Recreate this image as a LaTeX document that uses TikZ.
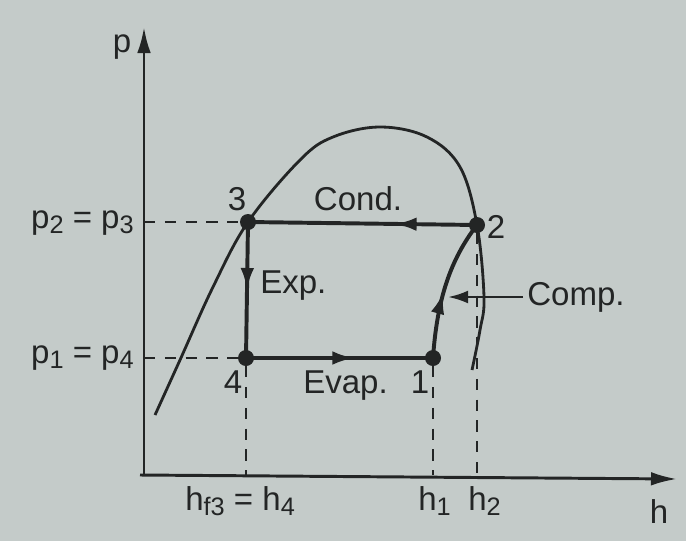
\documentclass[tikz,border=0pt]{standalone}
\usepackage{fontspec}
\setmainfont{Liberation Sans}
\usepackage{xcolor}
\usepackage{tikz}
\usetikzlibrary{arrows.meta, decorations.markings}
\definecolor{clrPaper}{HTML}{C4CBC9}
\definecolor{clrInk}{HTML}{232525}
\newcommand{\lowsub}[1]{\raisebox{-0.32ex}{\fontsize{18}{20}\selectfont #1}}
\tikzset{
  state pt/.style={circle, fill=clrInk, inner sep=0pt, minimum size=4mm},
  lbl/.style={font=\fontsize{23.5}{27}\selectfont, text=clrInk, inner sep=0pt},
  axis/.style={draw=clrInk, line width=2.1pt, -{Latex[length=6.5mm, width=3.4mm]}},
  dome/.style={draw=clrInk, line width=2pt},
  cyc/.style={draw=clrInk, line width=2.8pt},
  guide/.style={draw=clrInk, line width=1.9pt, dash pattern=on 2.8mm off 2.4mm},
  ptr/.style={draw=clrInk, line width=1.8pt, -{Latex[length=5mm, width=3.2mm]}},
  mid arr/.style={postaction={decorate}, decoration={markings,
      mark=at position #1 with {\arrow{Latex[length=5.5mm, width=3.4mm]}}}},
}

\begin{document}
\begin{tikzpicture}[x=0.25mm, y=-0.25mm]
  % Paper
  \fill[clrPaper] (0,0) rectangle (686,541);
  \useasboundingbox (0,0) rectangle (686,541);

  % Axes
  \coordinate (O) at (144,475);
  \coordinate (ptop) at (144,27);
  \coordinate (hend) at (677,479);
  \draw[axis] (O) -- (ptop);
  \draw[axis] (140,475) -- (hend);
  \node[lbl] (plbl) at (122,47) {p};
  \node[lbl, anchor=base] (hlbl) at (659,523) {h};

  % Saturation dome
  \draw[dome] plot[smooth, tension=0.6] coordinates {(155,415) (180,360) (213,287)
    (248,222) (300,160) (333,137) (380,127) (427,137) (460,167) (477,225)
    (484,297) (480,330) (472,370)};

  % States
  \node[state pt] (S3) at (248,222) {};
  \node[state pt] (S2) at (477,225) {};
  \node[state pt] (S4) at (246,358) {};
  \node[state pt] (S1) at (433,358) {};

  % Guide lines
  \draw[guide] (O |- S3) -- (S3);
  \draw[guide] (O |- S4) -- (S4);
  \draw[guide] (S4) -- (S4 |- O);
  \draw[guide] (S1) -- (S1 |- O);
  \draw[guide] (S2) -- (S2 |- hend);

  % Processes
  \draw[cyc, mid arr=0.36] (S2.center) -- (S3.center);
  \draw[cyc, mid arr=0.5] (S3.center) -- (S4.center);
  \draw[cyc, mid arr=0.58] (S4.center) -- (S1.center);
  \draw[cyc, mid arr=0.47] (S1.center) .. controls (437,300) and (450,260) .. (S2.center);

  % Labels
  \node[lbl, anchor=base east] (p23) at (134,228) {p\lowsub{2} = p\lowsub{3}};
  \node[lbl, anchor=base east] (p14) at (134,363) {p\lowsub{1} = p\lowsub{4}};
  \node[lbl] (n3) at (237,199) {3};
  \node[lbl] (n2) at (496,227) {2};
  \node[lbl, anchor=base] (n4) at (233,393) {4};
  \node[lbl, anchor=base] (n1) at (420,393) {1};
  \node[lbl] (cond) at (358,199) {Cond.};
  \node[lbl, anchor=west] (expn) at (260,286) {Exp.};
  \node[lbl, anchor=base west] (evap) at (303,393) {Evap.};
  \node[lbl, anchor=west] (comp) at (527,297) {Comp.};
  \coordinate (comptip) at (448,297);
  \draw[ptr] (comp.west) ++(-4,0) -- (comptip);
  \node[lbl, anchor=base west] (hf3) at (185,510) {h\lowsub{f3} = h\lowsub{4}};
  \node[lbl, anchor=base west] (h1) at (418,510) {h\lowsub{1}};
  \node[lbl, anchor=base west] (h2) at (468,510) {h\lowsub{2}};
\end{tikzpicture}
\end{document}
